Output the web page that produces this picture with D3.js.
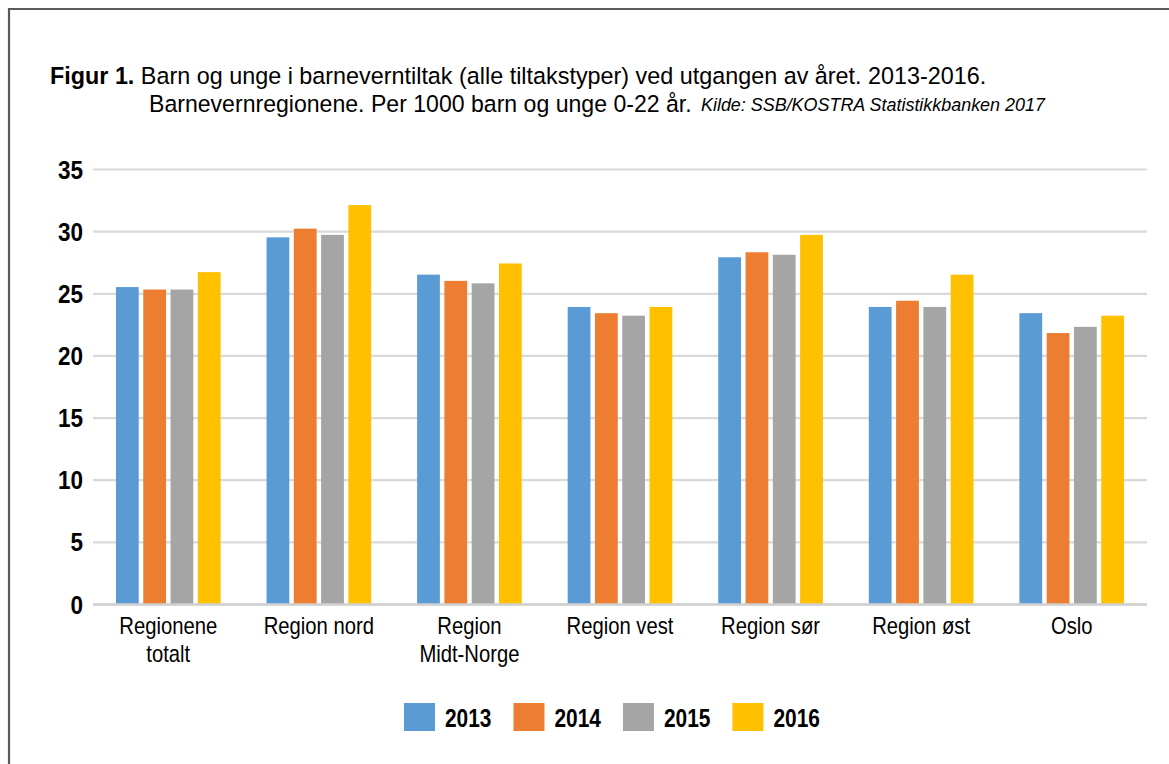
<!DOCTYPE html>
<html><head><meta charset="utf-8">
<script src="https://cdn.jsdelivr.net/npm/d3@7"></script>
<style>
body{margin:0;background:#fff}
svg{display:block}
text{font-family:"Liberation Sans",Arial,sans-serif;fill:#000}
</style></head>
<body><svg id="chart" width="1169" height="764"></svg>
<script>
const categories = ["Regionene totalt","Region nord","Region Midt-Norge","Region vest","Region sør","Region øst","Oslo"];
const categoryLines = [["Regionene","totalt"],["Region nord"],["Region","Midt-Norge"],["Region vest"],["Region sør"],["Region øst"],["Oslo"]];
const years = ["2013","2014","2015","2016"];
const v2013 = [25.5,29.5,26.5,23.9,27.9,23.9,23.4];
const v2014 = [25.3,30.2,26.0,23.4,28.3,24.4,21.8];
const v2015 = [25.3,29.7,25.8,23.2,28.1,23.9,22.3];
const v2016 = [26.7,32.1,27.4,23.9,29.7,26.5,23.2];
const yTicks = [0,5,10,15,20,25,30,35];
const colors = ["#5B9BD5","#ED7D31","#A5A5A5","#FFC000"];
const titleBold = "Figur 1.";
const titleRest = " Barn og unge i barneverntiltak (alle tiltakstyper) ved utgangen av året. 2013-2016.";
const title2 = "Barnevernregionene. Per 1000 barn og unge 0-22 år.";
const source = "Kilde: SSB/KOSTRA Statistikkbanken 2017";

(function(){
const series = [v2013,v2014,v2015,v2016];
const data = categories.map((c,i)=>({cat:c, vals:years.map((yr,j)=>({year:yr, value:series[j][i], color:colors[j]}))}));

const svg = d3.select("#chart");
svg.append("path").attr("d","M9,764 V9 H1169").attr("fill","none").attr("stroke","#5a5a5a").attr("stroke-width",2.2);

const pL=93,pR=1147,pT=169,pB=604;
const x0 = d3.scaleBand().domain(categories).range([pL,pR]).paddingInner(0.305).paddingOuter(0.1525);
const x1 = d3.scaleBand().domain(years).range([0,x0.bandwidth()]).paddingInner(0.165);
const y = d3.scaleLinear().domain([0,35]).range([pB,pT]);

const yAxis = svg.append("g").attr("transform",`translate(${pL},0)`)
  .call(d3.axisLeft(y).tickValues(yTicks).tickSize(-(pR-pL)).tickPadding(10));
yAxis.select(".domain").remove();
yAxis.selectAll(".tick line").attr("stroke","#d9d9d9").attr("stroke-width",2.2);
const sxTick = 0.9;
yAxis.selectAll(".tick text").style("font-size","25px").style("font-weight","bold")
  .attr("x",-10/sxTick).attr("dy","0.36em").attr("transform",`scale(${sxTick},1)`);

const g = svg.append("g");
const groups = g.selectAll("g.cat").data(data).join("g").attr("class","cat").attr("transform",d=>`translate(${x0(d.cat)},0)`);
groups.selectAll("rect").data(d=>d.vals).join("rect")
  .attr("x",d=>x1(d.year)).attr("width",x1.bandwidth())
  .attr("y",d=>y(d.value)).attr("height",d=>y(0)-y(d.value))
  .attr("fill",d=>d.color);

svg.append("line").attr("x1",pL).attr("x2",pR).attr("y1",y(0)+0.5).attr("y2",y(0)+0.5)
  .attr("stroke","#d0d0d0").attr("stroke-width",2.6);

const xAxis = svg.append("g").attr("transform",`translate(0,${pB})`)
  .call(d3.axisBottom(x0).tickSize(0).tickFormat(""));
xAxis.select(".domain").remove();
xAxis.selectAll(".tick").each(function(d,i){
  const t = d3.select(this).append("text").attr("text-anchor","middle").style("font-size","23px")
    .attr("transform","scale(0.88,1)");
  categoryLines[i].forEach((ln,k)=>t.append("tspan").attr("x",0).attr("y",30.5+k*27.7).text(ln));
});

function fitX(sel, target){
  const w = sel.node().getComputedTextLength();
  sel.attr("transform",`scale(${target/w},1)`);
}
const g1 = svg.append("g").attr("transform","translate(50,83.5)");
const t1 = g1.append("text").style("font-size","23.5px");
t1.append("tspan").style("font-weight","bold").text(titleBold);
t1.append("tspan").text(titleRest);
fitX(t1, 937);
const g2 = svg.append("g").attr("transform","translate(149,112)");
const t2 = g2.append("text").style("font-size","23.5px").text(title2);
fitX(t2, 543);
const g3 = svg.append("g").attr("transform","translate(701,111)");
const t3 = g3.append("text").style("font-size","18px").style("font-style","italic").text(source);
fitX(t3, 344);

const lg = svg.append("g").attr("transform","translate(404,703)");
let lx = 0;
years.forEach((yr,j)=>{
  const it = lg.append("g").attr("transform",`translate(${lx},0)`);
  it.append("rect").attr("width",31).attr("height",28).attr("fill",colors[j]);
  const tg = it.append("g").attr("transform","translate(41,23.5)");
  const tx = tg.append("text").style("font-size","25.5px").style("font-weight","bold").attr("transform","scale(0.82,1)").text(yr);
  lx += 41 + tx.node().getComputedTextLength()*0.82 + 22;
});
})();
</script></body></html>
